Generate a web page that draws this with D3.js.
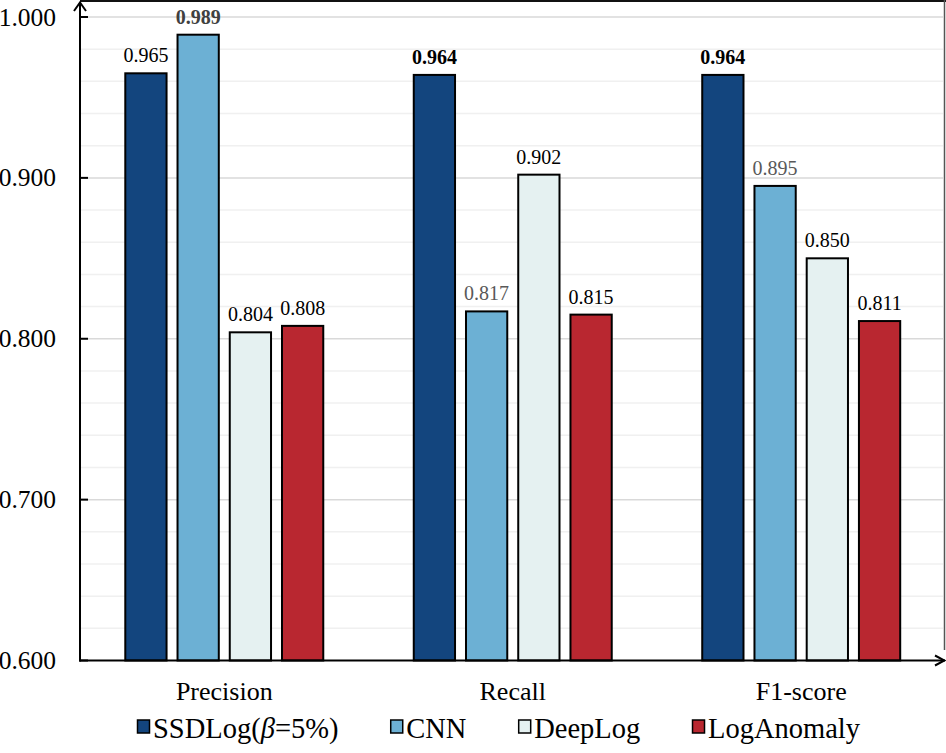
<!DOCTYPE html>
<html><head><meta charset="utf-8">
<script src="https://cdn.jsdelivr.net/npm/d3@7/dist/d3.min.js"></script>
<style>body{margin:0;background:#fff;} svg{display:block;} svg text{font-family:"Liberation Serif","Tinos","Times New Roman","DejaVu Serif",serif;}</style>
</head><body>
<svg id="chart" width="946" height="753"></svg>
<script>
const categories = ["Precision", "Recall", "F1-score"];
const seriesNames = ["SSDLog", "CNN", "DeepLog", "LogAnomaly"];
const SSDLog = [0.965, 0.964, 0.964];
const CNN = [0.989, 0.817, 0.895];
const DeepLog = [0.804, 0.902, 0.850];
const LogAnomaly = [0.808, 0.815, 0.811];
const yTicks = [0.6, 0.7, 0.8, 0.9, 1.0];
// label emphasis: bold for best per category
const boldLabels = [[false, true, false, false], [true, false, false, false], [true, false, false, false]];

const colors = {SSDLog: "#13457e", CNN: "#6cb0d4", DeepLog: "#e5f1f1", LogAnomaly: "#b92730"};
const values = {SSDLog, CNN, DeepLog, LogAnomaly};

const svg = d3.select("#chart");
const mLeft = 80, mRight = 945.5, mTop = 17, mBottom = 660.5;

const y = d3.scaleLinear().domain([0.6, 1.0]).range([mBottom, mTop]);
const x0 = d3.scaleBand().domain(categories).range([mLeft, mRight]).paddingInner(0.3137).paddingOuter(0.157);
const x1 = d3.scaleBand().domain(seriesNames).range([0, x0.bandwidth()]).paddingInner(0.21).paddingOuter(0);

// minor grid
const minor = d3.range(0.62, 1.0, 0.02).filter(v => Math.abs(Math.round(v*10) - v*10) > 0.01);
svg.append("g").selectAll("line").data(minor).join("line")
  .attr("x1", mLeft).attr("x2", 943).attr("y1", d => y(d)).attr("y2", d => y(d))
  .attr("stroke", "#f0f0f0").attr("stroke-width", 1.5);
svg.append("g").selectAll("line").data(yTicks.filter(v => v > 0.6)).join("line")
  .attr("x1", mLeft).attr("x2", 943).attr("y1", d => y(d)).attr("y2", d => y(d))
  .attr("stroke", "#d9d9d9").attr("stroke-width", 1.5);

// frame top/right
svg.append("line").attr("x1", mLeft).attr("x2", 946).attr("y1", 1).attr("y2", 1).attr("stroke", "#111").attr("stroke-width", 2);
svg.append("line").attr("x1", 944.5).attr("x2", 944.5).attr("y1", 0).attr("y2", 650).attr("stroke", "#555").attr("stroke-width", 1.5);

// bars
const groups = svg.append("g").selectAll("g").data(categories).join("g")
  .attr("transform", d => `translate(${x0(d)},0)`);
groups.each(function(cat, ci) {
  const g = d3.select(this);
  seriesNames.forEach((s, si) => {
    const v = values[s][ci];
    g.append("rect").attr("x", x1(s)).attr("width", x1.bandwidth())
      .attr("y", y(v)).attr("height", mBottom - y(v))
      .attr("fill", colors[s]).attr("stroke", "#000").attr("stroke-width", 2);
    g.append("text").attr("x", x1(s) + x1.bandwidth()/2).attr("y", y(v) - 11)
      .attr("text-anchor", "middle").attr("font-size", 20)
      .attr("font-weight", boldLabels[ci][si] ? "bold" : "normal")
      .attr("fill", s === "CNN" ? (boldLabels[ci][si] ? "#404040" : "#595959") : "#000")
      .text(d3.format(".3f")(v));
  });
});

// y axis
svg.append("line").attr("x1", mLeft).attr("x2", mLeft).attr("y1", 2).attr("y2", mBottom + 1).attr("stroke", "#000").attr("stroke-width", 2);
svg.append("path").attr("d", `M${mLeft-6},11 L${mLeft},2.5 L${mLeft+6},11`).attr("fill", "none").attr("stroke", "#000").attr("stroke-width", 2);
svg.append("g").selectAll("line").data(yTicks).join("line")
  .attr("x1", mLeft).attr("x2", mLeft + 8).attr("y1", d => y(d)).attr("y2", d => y(d)).attr("stroke", "#000").attr("stroke-width", 2);
svg.append("g").selectAll("text").data(yTicks).join("text")
  .attr("x", 56).attr("y", d => y(d) + 8.5).attr("text-anchor", "end")
  .attr("font-size", 25.5).attr("fill", "#000")
  .text(d => d3.format(".3f")(d));

// x axis
svg.append("line").attr("x1", mLeft - 1).attr("x2", 945).attr("y1", mBottom).attr("y2", mBottom).attr("stroke", "#000").attr("stroke-width", 2);
svg.append("path").attr("d", `M935,${mBottom-5} L944.5,${mBottom} L935,${mBottom+5}`).attr("fill", "none").attr("stroke", "#000").attr("stroke-width", 2);
svg.append("g").selectAll("text").data(categories).join("text")
  .attr("x", d => x0(d) + x0.bandwidth()/2).attr("y", 700).attr("text-anchor", "middle")
  .attr("font-size", 26).attr("fill", "#000").text(d => d);

// legend: evenly spaced items spanning the legend width
const legendSpan = [137, 860];
const items = [
  {key: "SSDLog", parts: [["SSDLog(", "normal"], ["β", "italic"], ["=5%)", "normal"]]},
  {key: "CNN", parts: [["CNN", "normal"]]},
  {key: "DeepLog", parts: [["DeepLog", "normal"]]},
  {key: "LogAnomaly", parts: [["LogAnomaly", "normal"]]}
];
const legY = 738;
const legend = svg.append("g");
const itemGroups = items.map((it, i) => {
  const g = legend.append("g");
  g.append("rect").attr("x", 0.5).attr("y", legY - 18).attr("width", 12).attr("height", 13)
    .attr("fill", colors[it.key]).attr("stroke", "#000").attr("stroke-width", 1.5);
  const t = g.append("text").attr("x", 16).attr("y", legY).attr("font-size", 28.5).attr("fill", "#000");
  it.parts.forEach(p => t.append("tspan").attr("font-style", p[1]).text(p[0]));
  return {g, w: 16 + t.node().getComputedTextLength()};
});
const sumW = d3.sum(itemGroups, d => d.w);
const gap = (legendSpan[1] - legendSpan[0] - sumW) / (items.length - 1);
let cx = legendSpan[0];
itemGroups.forEach(d => { d.g.attr("transform", `translate(${cx},0)`); cx += d.w + gap; });
</script>
</body></html>
